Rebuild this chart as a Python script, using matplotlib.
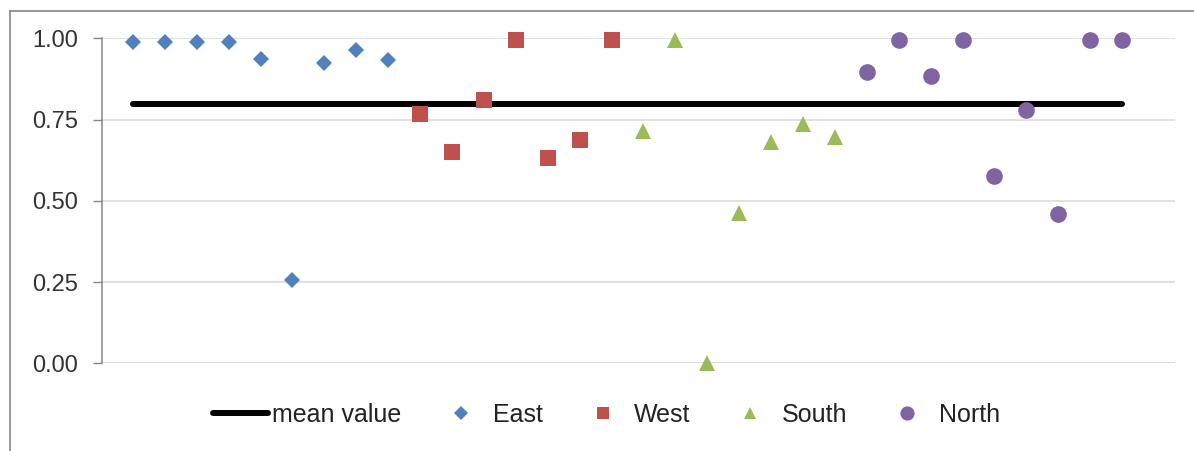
import matplotlib.pyplot as plt
import numpy as np

plt.rcParams['font.family'] = ['Liberation Sans', 'DejaVu Sans']

# values, in order along the x axis
east = [0.99, 0.99, 0.99, 0.99, 0.935, 0.256, 0.923, 0.964, 0.933]
west = [0.766, 0.649, 0.81, 0.995, 0.632, 0.687, 0.995]
south = [0.715, 0.995, 0.0, 0.462, 0.682, 0.735, 0.697]
north = [0.897, 0.995, 0.884, 0.995, 0.576, 0.78, 0.459, 0.995, 0.995]
mean_value = 0.797

names = ['East', 'West', 'South', 'North']
colors = ['#4F81BD', '#C0504D', '#9BBB59', '#8064A2']
markers = ['D', 's', '^', 'o']
sizes = [7.8, 11, 11, 12]
yticks = [0.0, 0.25, 0.5, 0.75, 1.0]


def no_spines(ax, left=False, right=False, top=False, bottom=False):
    ax.spines["top"].set_visible(top)
    ax.spines["right"].set_visible(right)
    ax.spines["left"].set_visible(left)
    ax.spines["bottom"].set_visible(bottom)


fig = plt.figure(figsize=(11.94, 4.51), dpi=100)
ax = fig.add_axes([102 / 1194, 1 - 363.3 / 451, (1175 - 102) / 1194, (363.3 - 38.3) / 451])

groups = [east, west, south, north]
n_total = sum(len(g) for g in groups)

start = 1
for vals, name, c, m, s in zip(groups, names, colors, markers, sizes):
    x = np.arange(start, start + len(vals))
    ax.plot(x, vals, linestyle='none', marker=m, ms=s, color=c,
            markeredgewidth=0, label=name, clip_on=False, zorder=3)
    start += len(vals)

ax.plot([1, n_total], [mean_value, mean_value], color='black', lw=4.3,
        solid_capstyle='round', label='mean value', zorder=2)

ax.set_xlim(0.03, 33.66)
ax.set_ylim(0, 1)
ax.set_xticks([])
ax.set_yticks(yticks)
ax.set_yticklabels([f'{t:.2f}' for t in yticks])
ax.tick_params(axis='y', length=6.5, width=1, color='#868686', pad=11,
               labelsize=17, labelcolor='#333333')
ax.grid(True, axis='y', color='#D9D9D9', lw=1.1)
ax.set_axisbelow(True)
no_spines(ax, left=True)
ax.spines['left'].set_color('#868686')
ax.spines['left'].set_linewidth(1.1)
ax.axhline(0, color='#D9D9D9', lw=1.1, zorder=1)

handles, labels = ax.get_legend_handles_labels()
order = [4, 0, 1, 2, 3]
fig.legend([handles[i] for i in order], [labels[i] for i in order],
           loc='center', bbox_to_anchor=(0.508, 1 - 415 / 451), ncol=5,
           frameon=False, fontsize=18, handlelength=2.2, handletextpad=0.16,
           columnspacing=1.3, markerscale=0.85, labelcolor='#222222')

# chart border
fig.add_artist(plt.Line2D([10 / 1194, 10 / 1194], [0, 1 - 11 / 451], color='#868686', lw=1.2))
fig.add_artist(plt.Line2D([10 / 1194, 1], [1 - 11 / 451, 1 - 11 / 451], color='#868686', lw=1.2))

fig.savefig('out.png', dpi=100)
